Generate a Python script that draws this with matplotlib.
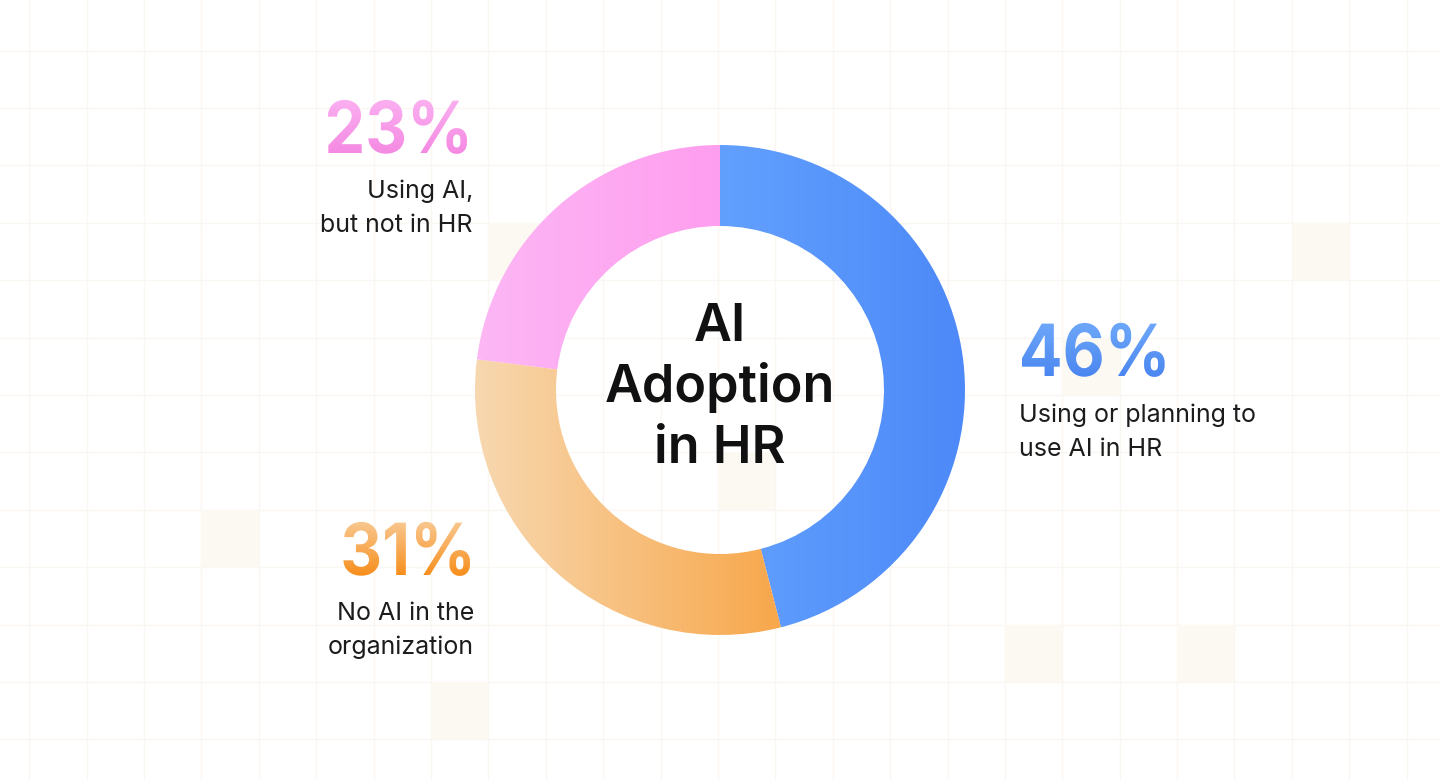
import numpy as np
import matplotlib
matplotlib.use("Agg")
import matplotlib.pyplot as plt
from matplotlib.patches import Wedge, Rectangle, PathPatch
from matplotlib.colors import LinearSegmentedColormap
from matplotlib.textpath import TextPath
from matplotlib.font_manager import FontProperties
from matplotlib.transforms import Affine2D

# data
categories = ["Using or planning to\nuse AI in HR", "No AI in the\norganization", "Using AI,\nbut not in HR"]
shares = [46, 31, 23]
center_title = ["AI", "Adoption", "in HR"]

# segment gradients (left -> right) and percentage gradients (top -> bottom)
seg_colors = [("#62A0FE", "#4D89F8"), ("#F8D8B0", "#F7A74B"), ("#FCB7F5", "#FF9EEF")]
pct_colors = [("#6EA8FA", "#4A86F0"), ("#F9C890", "#F78E1C"), ("#FBB0F1", "#F589E2")]

# layout (pixels)
W, H = 1440, 780
CX, CY, R_OUT, RING = 720, 390, 245, 81
# (pct x, pct baseline, label x, first label baseline, side)
label_pos = [(1022, 376, 1019, 422, "left"),
             (470, 575, 474, 620, "right"),
             (467, 153, 473, 198, "right")]
grid_x0, grid_y0, cell = 29.3, -6.7, 57.39
beige_cells = [(22, 4), (18, 6), (3, 9), (12, 8), (7, 12), (17, 11), (20, 11), (8, 4)]

FAM = ["Inter", "DejaVu Sans"]


def gradient_fill(ax, patch, c0, c1, horizontal=True, z=2):
    bb = patch.get_path().transformed(patch.get_patch_transform()).get_extents()
    g = np.linspace(0, 1, 256)
    arr = g.reshape(1, -1) if horizontal else g.reshape(-1, 1)
    cmap = LinearSegmentedColormap.from_list("g", [c0, c1])
    im = ax.imshow(arr, cmap=cmap, extent=(bb.x0, bb.x1, bb.y1, bb.y0),
                   aspect="auto", interpolation="bicubic", zorder=z)
    im.set_clip_path(patch)


fig = plt.figure(figsize=(W / 100, H / 100), dpi=100)
ax = fig.add_axes([0, 0, 1, 1])
ax.set_facecolor("white")
ax.axis("off")

# background grid + squares
for k in range(-1, 27):
    ax.axvline(grid_x0 + cell * k, color="#FAF7F2", lw=1, zorder=0)
for k in range(0, 16):
    ax.axhline(grid_y0 + cell * k, color="#FAF7F2", lw=1, zorder=0)
for cx, cy in beige_cells:
    ax.add_patch(Rectangle((grid_x0 + cell * cx, grid_y0 + cell * cy), cell, cell,
                           facecolor="#FCF8F2", edgecolor="none", zorder=0.5))

# donut, clockwise from top
start = -90.0
for val, (c0, c1) in zip(shares, seg_colors):
    end = start + val * 3.6
    w = Wedge((CX, CY), R_OUT, start, end, width=RING, facecolor="none", edgecolor="none")
    ax.add_patch(w)
    gradient_fill(ax, w, c0, c1, horizontal=True)
    start = end

# percentages + labels
fp_pct = FontProperties(family=FAM, weight="bold")
for val, cat, (px, pb, lx, lb, side), (c0, c1) in zip(shares, categories, label_pos, pct_colors):
    tp = TextPath((0, 0), f"{val}%", size=72, prop=fp_pct)
    tp = tp.transformed(Affine2D().scale(0.9, -1))
    bb = tp.get_extents()
    tx = px - bb.x0 if side == "left" else px - bb.x1
    path = tp.transformed(Affine2D().translate(tx, pb))
    pp = PathPatch(path, facecolor="none", edgecolor="none")
    ax.add_patch(pp)
    gradient_fill(ax, pp, c0, c1, horizontal=False, z=3)
    for i, line in enumerate(cat.split("\n")):
        ax.text(lx, lb + i * 34, line, ha=side, va="baseline", fontsize=18,
                family=FAM, color="#1C1C1C", zorder=4)

# center title
for i, line in enumerate(center_title):
    ax.text(CX, 341 + i * 61, line, ha="center", va="baseline", fontsize=37.5,
            family=FAM, weight="semibold", color="#111111", zorder=4)

ax.set_xlim(0, W)
ax.set_ylim(H, 0)
fig.savefig("out.png", dpi=100, facecolor="white")
